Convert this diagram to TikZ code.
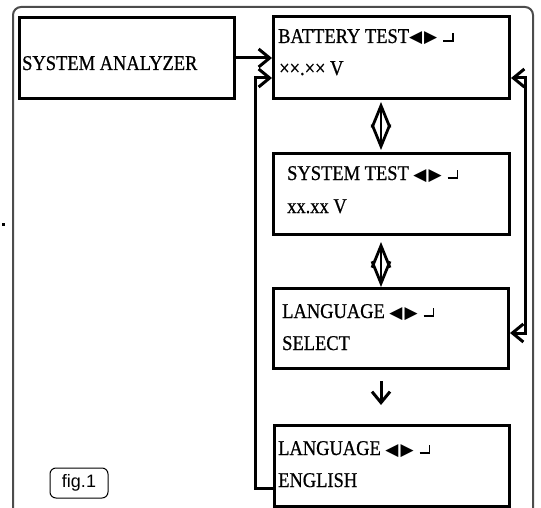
\documentclass[tikz,border=0pt]{standalone}
\usepackage{fontspec}
\setmainfont{Liberation Serif}[FakeStretch=0.88,FakeBold=0.7]
\newfontfamily\symf{DejaVu Sans}
\newfontfamily\figf{Liberation Sans}
\usetikzlibrary{arrows.meta}
\newcommand{\keysym}{{\symf\fontsize{17}{17}\selectfont ◀\hspace{2pt}▶}\hspace{6pt}\rule[1pt]{9pt}{1.8pt}\rule[1pt]{1.8pt}{9pt}}
\begin{document}
\begin{tikzpicture}[x=1pt,y=-1pt,
  box/.style={draw, line width=3pt, anchor=north west, inner sep=0pt},
  txt/.style={anchor=base west, inner sep=0pt, font=\fontsize{21}{21}\selectfont},
  conn/.style={line width=3pt},
  barb/.tip={Straight Barb[length=11pt,width=18pt]},
  dia/.tip={Straight Barb[length=22pt,width=18pt]}]
\useasboundingbox (0,0) rectangle (541,508);
% outer frame
\draw[black!70, line width=2pt, rounded corners=8pt] (13,520) -- (13,7) -- (533,7) -- (533,520);
\fill (2,223) rectangle (5,226);
% boxes
\node[box, minimum width=215pt, minimum height=81pt] (sa) at (18,16) {};
\node[box, minimum width=236pt, minimum height=82pt] (bt) at (272,15) {};
\node[box, minimum width=236pt, minimum height=81pt] (st) at (272,152) {};
\node[box, minimum width=235pt, minimum height=80pt] (ls) at (272,287) {};
\node[box, minimum width=235pt, minimum height=81pt] (en) at (273,424) {};
% texts
\node[txt] (saT) at (22,70) {SYSTEM ANALYZER};
\node[txt] (btT1) at (278,43) {BATTERY TEST\keysym};
\node[txt] (btT2) at (279,75) {××.×× V};
\node[txt] (stT1) at (287,180) {SYSTEM TEST \keysym};
\node[txt] (stT2) at (287,213) {xx.xx V};
\node[txt] (lsT1) at (282,318) {LANGUAGE \keysym};
\node[txt] (lsT2) at (282,350) {SELECT};
\node[txt] (enT1) at (278,455) {LANGUAGE \keysym};
\node[txt] (enT2) at (278,487) {ENGLISH};
\node[draw, rounded corners=6pt, line width=1pt, minimum width=58pt, minimum height=30pt, inner sep=0pt,
      font=\figf\fontsize{18}{18}\selectfont] (fig) at (79,483) {fig.1};
% connectors
\draw[conn, -barb] (sa.east) -- (sa.east -| bt.west);
\coordinate (l1) at (255,488);
\coordinate (l2) at (255,78);
\draw[conn, -barb] (en.west |- l1) -- (l1) -- (l2) -- (bt.west |- l2);
\coordinate (r1) at (525,78);
\coordinate (r2) at (525,333);
\draw[conn, barb-barb] (bt.east |- r1) -- (r1) -- (r2) -- (ls.east |- r2);
\coordinate (d1) at (381,0);
\draw[line width=2.8pt, dia-dia, shorten <=2pt, shorten >=2pt] (bt.south -| d1) -- (st.north -| d1);
\draw[line width=2.8pt, dia-dia, shorten <=6pt, shorten >=0pt] (st.south -| d1) -- (ls.north -| d1);
\draw[conn, -barb, shorten <=11pt, shorten >=19pt] (ls.south -| d1) -- (en.north -| d1);
\end{tikzpicture}
\end{document}
